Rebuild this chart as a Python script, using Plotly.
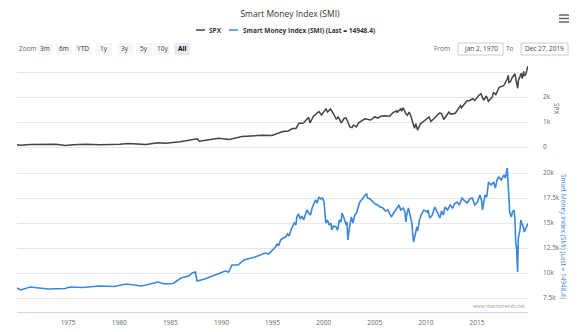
import plotly.graph_objects as go

# ---- data ----
spx_dates = [
    "1970-01-02", "1970-05-15", "1971-04-15", "1972-12-15", "1973-10-15", "1974-10-01",
    "1975-06-15", "1976-09-15", "1978-03-01", "1980-01-15", "1980-11-15", "1982-08-10",
    "1983-10-10", "1984-07-15", "1985-12-15", "1987-08-20", "1987-11-01", "1989-09-15",
    "1990-10-10", "1991-12-31", "1993-12-31", "1994-12-15", "1995-06-15", "1995-12-31",
    "1996-07-15", "1996-12-15", "1997-04-15", "1997-08-05", "1997-10-05", "1998-01-10",
    "1998-07-15", "1998-09-01", "1998-12-31", "1999-04-15", "1999-07-15", "1999-10-15",
    "2000-03-24", "2000-05-20", "2000-09-01", "2000-12-20", "2001-04-01", "2001-06-01",
    "2001-09-21", "2002-01-05", "2002-03-15", "2002-07-23", "2002-10-09", "2002-12-01",
    "2003-03-11", "2003-06-15", "2004-01-15", "2004-08-10", "2004-12-31", "2005-04-15",
    "2005-08-01", "2005-12-15", "2006-06-13", "2006-10-15", "2007-02-20", "2007-03-10",
    "2007-07-15", "2007-08-15", "2007-10-09", "2008-01-20", "2008-03-10", "2008-05-15",
    "2008-07-15", "2008-10-10", "2008-11-20", "2009-01-05", "2009-03-09", "2009-06-15",
    "2009-12-31", "2010-04-23", "2010-07-02", "2010-12-31", "2011-04-29", "2011-07-07",
    "2011-10-03", "2011-11-25", "2012-04-02", "2012-06-01", "2012-11-15", "2013-05-21",
    "2013-06-24", "2013-12-31", "2014-04-11", "2014-08-01", "2014-10-15", "2015-03-10",
    "2015-05-20", "2015-08-25", "2015-12-01", "2016-02-11", "2016-06-27", "2016-08-15",
    "2016-11-03", "2017-03-01", "2017-08-10", "2017-12-01", "2018-01-26", "2018-02-08",
    "2018-04-02", "2018-06-15", "2018-09-20", "2018-10-29", "2018-12-24", "2019-01-20",
    "2019-04-30", "2019-06-03", "2019-07-26", "2019-08-05", "2019-10-02", "2019-12-27",
]
spx_values = [
    93, 72, 104, 118, 108, 63,
    92, 107, 88, 114, 140, 103,
    170, 150, 211, 330, 230, 350,
    300, 417, 466, 459, 545, 616,
    640, 740, 740, 950, 950, 960,
    1186, 960, 1229, 1340, 1418, 1280,
    1527, 1400, 1520, 1320, 1100, 1220,
    965, 1150, 1160, 800, 776, 880,
    800, 980, 1130, 1080, 1210, 1150,
    1230, 1250, 1230, 1380, 1450, 1390,
    1530, 1430, 1565, 1330, 1270, 1400,
    1230, 900, 750, 930, 676, 920,
    1115, 1200, 1020, 1250, 1360, 1340,
    1099, 1190, 1400, 1310, 1350, 1650,
    1570, 1840, 1860, 1930, 1860, 2070,
    2130, 1870, 2040, 1830, 2000, 2190,
    2090, 2390, 2450, 2690, 2870, 2580,
    2600, 2780, 2930, 2650, 2350, 2670,
    2945, 2740, 3025, 2840, 2890, 3240,
]

smi_dates = [
    "1970-01-02", "1970-05-15", "1971-04-15", "1972-06-15", "1973-01-15", "1974-09-15",
    "1975-03-15", "1976-06-15", "1978-01-15", "1979-06-15", "1980-01-15", "1980-09-15",
    "1982-03-15", "1983-03-15", "1983-10-15", "1984-06-15", "1985-04-15", "1986-01-15",
    "1986-10-15", "1987-02-15", "1987-06-15", "1987-08-15", "1988-05-15", "1989-05-15",
    "1990-05-15", "1990-09-15", "1991-01-15", "1991-08-15", "1992-03-15", "1993-04-15",
    "1994-04-15", "1994-08-15", "1995-04-15", "1995-06-15", "1995-08-15", "1995-10-15",
    "1996-01-15", "1996-04-15", "1996-06-15", "1996-08-15", "1996-11-15", "1997-02-15",
    "1997-04-15", "1997-05-15", "1997-07-15", "1997-09-15", "1997-11-15", "1998-01-15",
    "1998-03-15", "1998-05-15", "1998-07-15", "1998-09-15", "1998-11-15", "1999-01-15",
    "1999-03-15", "1999-05-15", "1999-07-15", "1999-09-15", "1999-11-15", "2000-01-15",
    "2000-02-15", "2000-03-15", "2000-05-15", "2000-07-15", "2000-09-15", "2000-10-15",
    "2000-12-15", "2001-03-15", "2001-05-15", "2001-07-15", "2001-09-15", "2001-10-15",
    "2001-12-15", "2002-03-15", "2002-04-15", "2002-05-15", "2002-07-15", "2002-09-15",
    "2002-11-15", "2003-01-15", "2003-03-15", "2003-05-15", "2003-07-15", "2003-10-15",
    "2004-01-15", "2004-03-15", "2004-04-15", "2004-07-15", "2004-10-15", "2005-01-15",
    "2005-04-15", "2005-07-15", "2005-10-15", "2006-01-15", "2006-04-15", "2006-06-15",
    "2006-08-15", "2006-10-15", "2007-01-15", "2007-03-15", "2007-05-15", "2007-07-15",
    "2007-10-15", "2007-12-15", "2008-01-15", "2008-02-15", "2008-04-15", "2008-06-15",
    "2008-08-15", "2008-10-15", "2008-12-15", "2009-02-15", "2009-03-15", "2009-05-15",
    "2009-07-15", "2009-10-15", "2010-02-15", "2010-03-15", "2010-05-15", "2010-08-15",
    "2010-11-15", "2011-02-15", "2011-05-15", "2011-07-15", "2011-09-15", "2011-11-15",
    "2012-02-15", "2012-05-15", "2012-08-15", "2012-10-15", "2013-01-15", "2013-04-15",
    "2013-07-15", "2013-10-15", "2014-01-15", "2014-04-15", "2014-07-15", "2014-10-15",
    "2015-01-15", "2015-04-15", "2015-06-15", "2015-07-15", "2015-10-15", "2015-12-15",
    "2016-02-15", "2016-05-15", "2016-08-15", "2016-10-15", "2016-12-15", "2017-02-15",
    "2017-05-15", "2017-08-15", "2017-10-15", "2017-12-15", "2018-01-15", "2018-02-15",
    "2018-03-15", "2018-05-15", "2018-06-15", "2018-08-15", "2018-09-15", "2018-10-15",
    "2018-11-15", "2018-12-20", "2019-01-15", "2019-03-15", "2019-04-15", "2019-05-15",
    "2019-07-15", "2019-08-15", "2019-10-15", "2019-12-27",
]
smi_values = [
    8500, 8300, 8600, 8500, 8400, 8450,
    8600, 8550, 8700, 8650, 8750, 8900,
    8700, 9000, 9100, 8900, 8950, 9500,
    9700, 10000, 10100, 9200, 9400, 9800,
    10200, 10100, 10800, 10800, 11300, 11600,
    12000, 11900, 12600, 12900, 12800, 13300,
    13500, 13600, 13900, 13700, 14500, 15000,
    14800, 15600, 15900, 15400, 15700, 15300,
    15900, 16300, 16000, 15800, 16500, 16900,
    17300, 17000, 17600, 17400, 17500, 17100,
    16200, 15000, 15300, 14800, 15000, 14300,
    14700, 14600, 14300, 15300, 15100, 16000,
    15600, 14800, 15100, 13300, 14600, 15600,
    15000, 15800, 16000, 16700, 17100, 17400,
    17800, 17900, 17500, 17400, 17100, 16900,
    16800, 16600, 16500, 16200, 16300, 16000,
    15600, 15900, 16300, 16500, 16800, 16300,
    16500, 16100, 15100, 15800, 16500, 15800,
    15000, 13100, 14000, 14600, 14200, 15300,
    15800, 16300, 16100, 16300, 15500, 15800,
    16600, 16100, 15500, 16200, 15800, 16600,
    16300, 16800, 16500, 16900, 17100, 16800,
    17500, 17200, 17000, 17400, 17500, 16800,
    17100, 17800, 17200, 16300, 17800, 17600,
    19100, 18800, 19100, 18500, 19300, 19600,
    19300, 19800, 19500, 20500, 18600, 17200,
    16000, 15600, 16100, 16300, 15500, 13000,
    12500, 10100, 13500, 14300, 15300, 15000,
    14600, 14100, 14500, 14948.4,
]

year_ticks = ["1975-01-01", "1980-01-01", "1985-01-01", "1990-01-01", "1995-01-01",
              "2000-01-01", "2005-01-01", "2010-01-01", "2015-01-01"]
year_labels = ["1975", "1980", "1985", "1990", "1995", "2000", "2005", "2010", "2015"]
spx_ticks = [0, 1000, 2000, 3000]
spx_ticktext = ["0", "1k", "2k", ""]
smi_ticks = [7500, 10000, 12500, 15000, 17500, 20000]
smi_ticktext = ["7.5k", "10k", "12.5k", "15k", "17.5k", "20k"]
zoom_buttons = ["3m", "6m", "YTD", "1y", "3y", "5y", "10y", "All"]

SPX_COLOR = "#434348"
SMI_COLOR = "#3a86d9"
FONT = "Open Sans"

# ---- page geometry (pixels) ----
W, H = 580, 332
L, R, T, B = 17, 52, 62, 20
PW, PH = W - L - R, H - T - B


def px(x):
    return (x - L) / PW


def py(y):
    return (H - B - y) / PH


fig = go.Figure()
fig.add_trace(go.Scatter(x=spx_dates, y=spx_values, mode="lines", name="SPX",
                         line=dict(color=SPX_COLOR, width=1.5), xaxis="x2", yaxis="y2"))
fig.add_trace(go.Scatter(x=smi_dates, y=smi_values, mode="lines",
                         name="Smart Money Index (SMI) (Last = 14948.4)",
                         line=dict(color=SMI_COLOR, width=1.6), xaxis="x", yaxis="y"))

axis_font = dict(family=FONT, size=6.5, color="#666666")
fig.update_layout(
    width=W, height=H,
    margin=dict(l=L, r=R, t=T, b=B, autoexpand=False),
    paper_bgcolor="white", plot_bgcolor="white",
    showlegend=False,
    font=dict(family=FONT),
    title=dict(text="Smart Money Index (SMI)", x=0.5, xanchor="center",
               y=1 - 14 / H, yanchor="middle",
               font=dict(family=FONT, size=8.5, color="#333333")),
    xaxis=dict(type="date", range=["1970-01-02", "2019-12-27"], anchor="y",
               tickvals=year_ticks, ticktext=year_labels, automargin=False,
               tickfont=axis_font, showgrid=False, zeroline=False,
               showline=True, linecolor="#ccd6eb", linewidth=1,
               ticks="", ticklabelstandoff=4),
    xaxis2=dict(type="date", matches="x", anchor="y2", showticklabels=False,
                automargin=False, showgrid=False, zeroline=False, showline=False),
    yaxis=dict(domain=[0, py(163)], range=[6100, 21000], side="right",
               tickvals=smi_ticks, ticktext=smi_ticktext, tickfont=axis_font,
               gridcolor="#e6e6e6", gridwidth=1, zeroline=False, automargin=False,
               ticklabelstandoff=14),
    yaxis2=dict(domain=[py(150), 1], range=[-120, 3400], side="right", anchor="x2",
                tickvals=spx_ticks, ticktext=spx_ticktext, tickfont=axis_font,
                gridcolor="#e6e6e6", gridwidth=1, zeroline=False, automargin=False,
                ticklabelstandoff=14),
)

ann = []
shapes = []


def text(x, y, s, size=6.5, color="#666666", xanchor="left", angle=0, bold=False):
    ann.append(dict(xref="paper", yref="paper", x=px(x), y=py(y), text=(f"<b>{s}</b>" if bold else s),
                    showarrow=False, xanchor=xanchor, yanchor="middle", textangle=angle,
                    font=dict(family=FONT, size=size, color=color)))


# axis titles on the right
text(557, 108, "SPX", size=6.5, color="#666666", xanchor="center", angle=90)
text(564, 236, "Smart Money Index (SMI) (Last = 14948.4)", size=6.5,
     color=SMI_COLOR, xanchor="center", angle=90)

# legend
shapes.append(dict(type="line", xref="paper", yref="paper", x0=px(196), x1=px(205),
                   y0=py(30), y1=py(30), line=dict(color=SPX_COLOR, width=1.5)))
text(207, 30, "SPX", size=6.5, color="#333333", bold=True)
shapes.append(dict(type="line", xref="paper", yref="paper", x0=px(229), x1=px(238),
                   y0=py(30), y1=py(30), line=dict(color=SMI_COLOR, width=1.5)))
text(241, 30, "Smart Money Index (SMI) (Last = 14948.4)", size=6.5, color="#333333", bold=True)

# range selector row
text(17, 49, "Zoom", size=6.5, color="#666666")
btn_centers = [45, 64, 83, 104, 125, 144, 162, 182]
for label, cx in zip(zoom_buttons, btn_centers):
    if label == "All":
        shapes.append(dict(type="rect", xref="paper", yref="paper", x0=px(cx - 8), x1=px(cx + 8),
                           y0=py(55), y1=py(43), fillcolor="#e6ebf5", line=dict(width=0)))
        text(cx, 49, label, size=6.5, color="#000000", xanchor="center", bold=True)
    else:
        shapes.append(dict(type="rect", xref="paper", yref="paper", x0=px(cx - 8), x1=px(cx + 8),
                           y0=py(55), y1=py(43), fillcolor="#f7f7f7", line=dict(width=0)))
        text(cx, 49, label, size=6.5, color="#333333", xanchor="center")

# date inputs
text(452, 49, "From", size=6.5, color="#666666", xanchor="right")
shapes.append(dict(type="rect", xref="paper", yref="paper", x0=px(458), x1=px(503),
                   y0=py(55), y1=py(43), line=dict(color="#cccccc", width=1)))
text(480.5, 49, "Jan 2, 1970", size=6.5, color="#444444", xanchor="center")
text(516, 49, "To", size=6.5, color="#666666", xanchor="right")
shapes.append(dict(type="rect", xref="paper", yref="paper", x0=px(521), x1=px(568),
                   y0=py(55), y1=py(43), line=dict(color="#cccccc", width=1)))
text(544.5, 49, "Dec 27, 2019", size=6.5, color="#444444", xanchor="center")

# context menu icon
for yy in (15, 18.5, 22):
    shapes.append(dict(type="line", xref="paper", yref="paper", x0=px(559), x1=px(569),
                       y0=py(yy), y1=py(yy), line=dict(color="#666666", width=1.5)))

# credit
text(527, 306, "www.macrotrends.net", size=5, color="#999999", xanchor="right")

fig.update_layout(annotations=ann, shapes=shapes)
fig.write_html("out.html")
